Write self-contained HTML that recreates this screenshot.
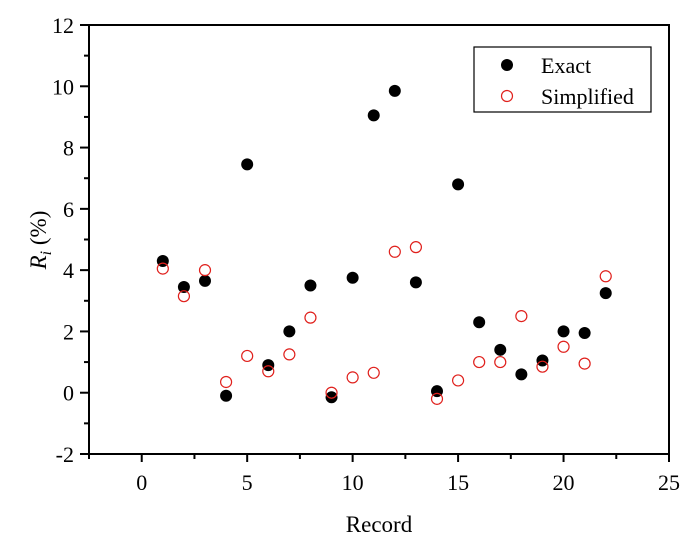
<!DOCTYPE html>
<html><head><meta charset="utf-8"><style>
body{margin:0;background:#fff}
svg text{font-family:"Liberation Serif",serif;fill:#000}
</style></head><body>
<svg id="c" width="696" height="546"></svg>
<script>
const records=[1,2,3,4,5,6,7,8,9,10,11,12,13,14,15,16,17,18,19,20,21,22];
const exactValues=[4.3,3.45,3.65,-0.1,7.45,0.9,2.0,3.5,-0.15,3.75,9.05,9.85,3.6,0.05,6.8,2.3,1.4,0.6,1.05,2.0,1.95,3.25];
const simplifiedValues=[4.05,3.15,4.0,0.35,1.2,0.7,1.25,2.45,0.0,0.5,0.65,4.6,4.75,-0.2,0.4,1.0,1.0,2.5,0.85,1.5,0.95,3.8];
const xTicks=[0,5,10,15,20,25];
const yTicks=[-2,0,2,4,6,8,10,12];
const L=89,R=669,T=25,B=454,x0=-2.5,x1=25,y0=-2,y1=12;
const sx=v=>L+(v-x0)/(x1-x0)*(R-L);
const sy=v=>B-(v-y0)/(y1-y0)*(B-T);
const svg=document.getElementById('c');
const NS='http://www.w3.org/2000/svg';
function mk(t,a,txt){const e=document.createElementNS(NS,t);for(const k in a)e.setAttribute(k,a[k]);if(txt!=null)e.textContent=txt;svg.appendChild(e);return e;}
let e=mk('rect',{x:L,y:T,width:R-L,height:B-T,fill:'none',stroke:'#000','stroke-width':2});


xTicks.forEach(v=>{
  let t=mk('line',{x1:sx(v),x2:sx(v),y1:B,y2:B+8,stroke:'#000','stroke-width':2});
  
  
  let l=mk('text',{x:sx(v),y:B+36,'font-size':22,'text-anchor':'middle'},v);
  
  
  if(v<25){let m=mk('line',{x1:sx(v+2.5),x2:sx(v+2.5),y1:B,y2:B+5,stroke:'#000','stroke-width':2});
  
  }
});
let m0=mk('line',{x1:sx(-2.5),x2:sx(-2.5),y1:B,y2:B+5,stroke:'#000','stroke-width':2});


yTicks.forEach(v=>{
  let t=mk('line',{x1:L-9,x2:L,y1:sy(v),y2:sy(v),stroke:'#000','stroke-width':2});
  
  
  let l=mk('text',{x:L-15,y:sy(v)+8,'font-size':22,'text-anchor':'end'},v);
  
  
  if(v<12){let m=mk('line',{x1:L-5,x2:L,y1:sy(v+1),y2:sy(v+1),stroke:'#000','stroke-width':2});
  
  }
});
records.forEach((r,i)=>{
  let c=mk('circle',{cx:sx(r),cy:sy(exactValues[i]),r:6,fill:'#000'});
  
  
  let s=mk('circle',{cx:sx(r),cy:sy(simplifiedValues[i]),r:5.5,fill:'none',stroke:'#e0201c','stroke-width':1.2});
  
  
});
let xt=mk('text',{x:(L+R)/2,y:532,'font-size':23,'text-anchor':'middle'},'Record');


let yt=mk('text',{x:0,y:0,'font-size':23,'text-anchor':'middle',transform:'translate(46,240) rotate(-90)'});


yt.innerHTML='<tspan font-style="italic">R</tspan><tspan font-style="italic" font-size="16" dy="5">i</tspan><tspan dy="-5"> (%)</tspan>';
let lb=mk('rect',{x:474,y:47,width:177,height:65,fill:'#fff',stroke:'#000','stroke-width':1.2});


let l1=mk('circle',{cx:507,cy:65,r:6,fill:'#000'});


let t1=mk('text',{x:541,y:73,'font-size':22},'Exact');


let l2=mk('circle',{cx:507,cy:96,r:5.5,fill:'none',stroke:'#e0201c','stroke-width':1.2});


let t2=mk('text',{x:541,y:104,'font-size':22},'Simplified');


</script>
</body></html>
